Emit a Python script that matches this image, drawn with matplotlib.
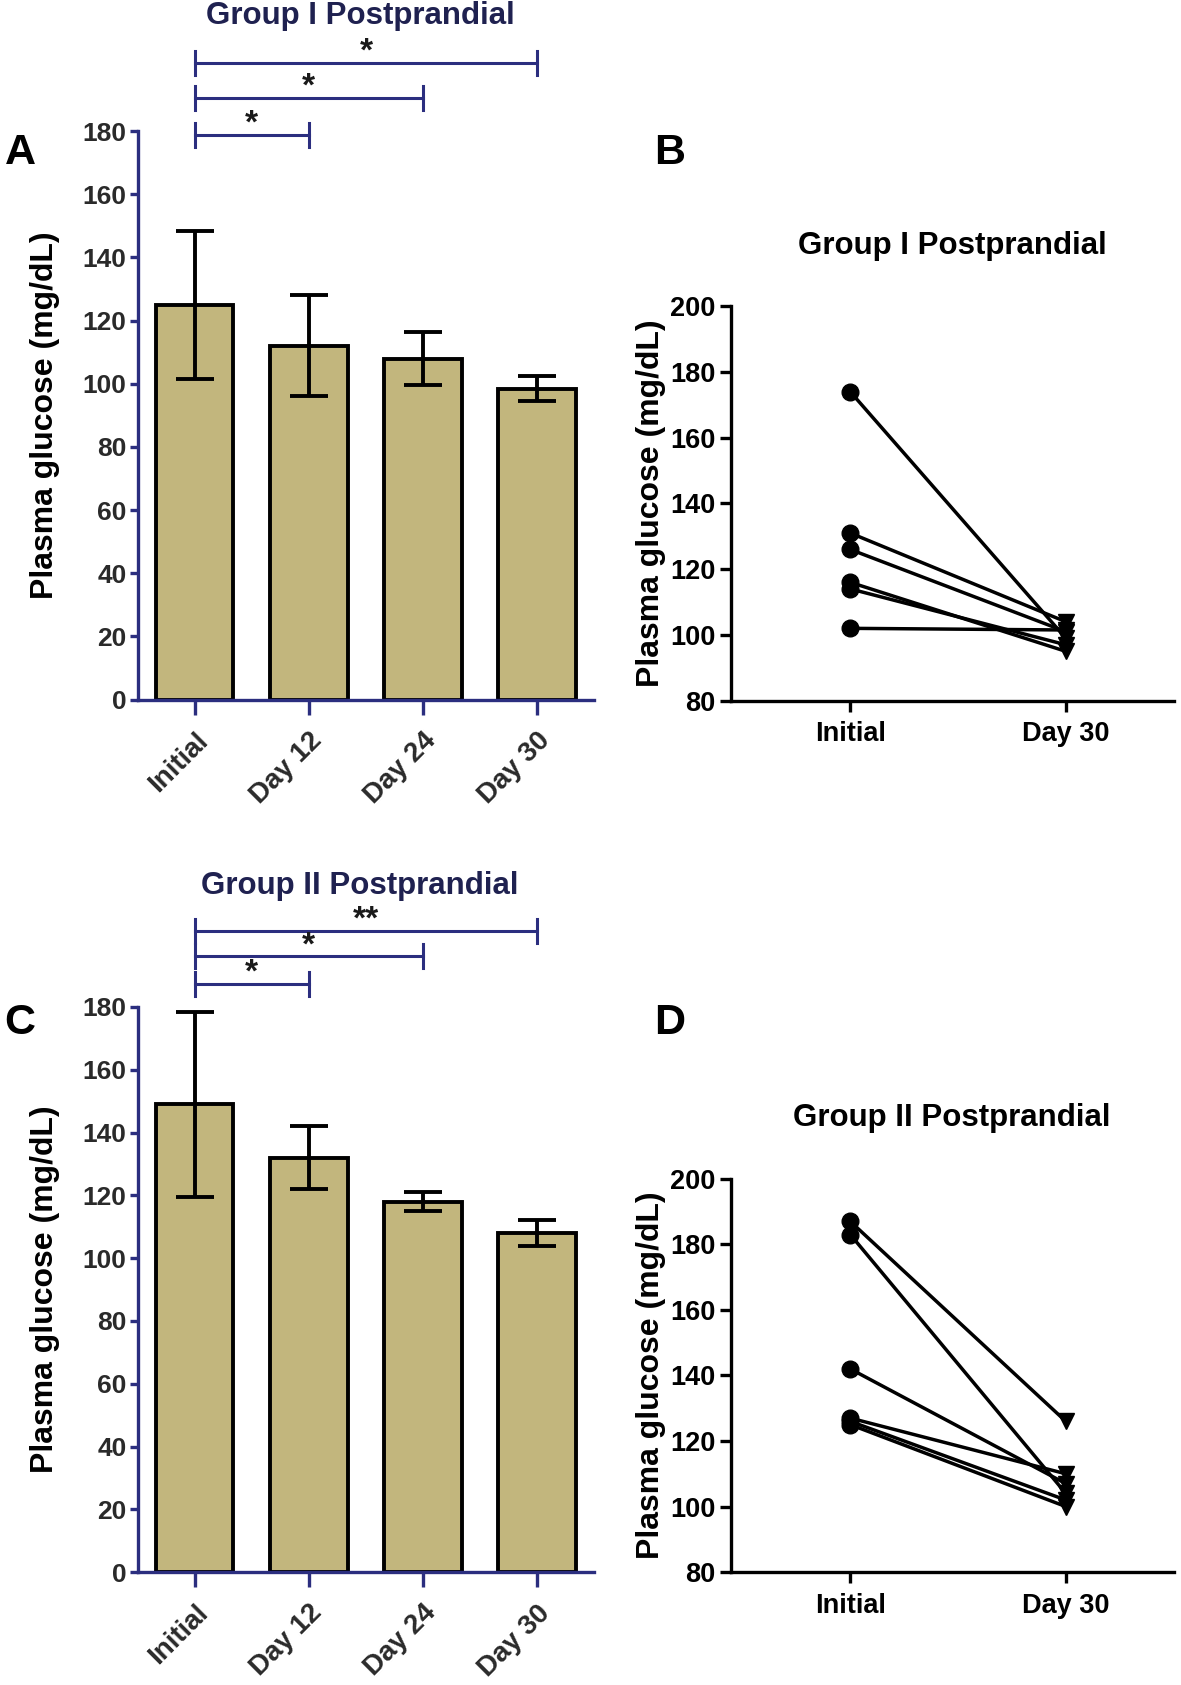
import matplotlib
matplotlib.use("Agg")
import matplotlib.pyplot as plt
import numpy as np

plt.rcParams['font.family'] = ['Liberation Sans', 'DejaVu Sans']
plt.rcParams['font.weight'] = 'bold'

# ---------------- data ----------------
days = ["Initial", "Day 12", "Day 24", "Day 30"]
g1_mean = [125, 112, 108, 98.5]
g1_sd = [23.5, 16, 8.5, 4]
g2_mean = [149, 132, 118, 108]
g2_sd = [29.5, 10, 3, 4]

pair_labels = ["Initial", "Day 30"]
g1_initial = [174, 131, 126, 116, 114, 102]
g1_day30 = [99, 104, 101, 95, 97, 101.5]
g2_initial = [187, 183, 142, 127, 126, 125]
g2_day30 = [126, 104, 107, 110, 102, 100]

g1_sig = [(0, 1, "*"), (0, 2, "*"), (0, 3, "*")]
g2_sig = [(0, 1, "*"), (0, 2, "*"), (0, 3, "**")]

NAVY = "#2b2e7f"
BAR = "#c2b67d"
TXT = "#2a2a2a"

fig = plt.figure(figsize=(11.81, 16.85), dpi=100)


def bar_panel(rect, means, sds, sig, sig_levels, title, title_y, letter, letter_xy):
    ax = fig.add_axes(rect)
    x = np.arange(len(days))
    ax.bar(x, means, width=0.68, color=BAR, edgecolor="black", linewidth=2.8, zorder=2)
    ax.errorbar(x, means, yerr=sds, fmt="none", ecolor="black", elinewidth=2.8,
                capsize=14, capthick=2.8, zorder=3)
    ax.set_xlim(-0.5, 3.5)
    ax.set_ylim(0, 180)
    ax.set_yticks(np.arange(0, 181, 20))
    ax.set_xticks(x)
    ax.set_xticklabels(days, rotation=45, ha="right", rotation_mode="anchor",
                       fontsize=20, fontweight="bold", color=TXT)
    for lab in ax.get_yticklabels():
        lab.set_fontsize(19)
        lab.set_fontweight("bold")
        lab.set_color(TXT)
    for s in ["top", "right"]:
        ax.spines[s].set_visible(False)
    for s in ["left", "bottom"]:
        ax.spines[s].set_color(NAVY)
        ax.spines[s].set_linewidth(2.4)
    ax.tick_params(axis="y", colors=NAVY, width=2.4, length=6, labelcolor=TXT, pad=2)
    ax.tick_params(axis="x", colors=NAVY, width=2.4, length=11, labelcolor=TXT, pad=9)
    ax.set_ylabel("Plasma glucose (mg/dL)", fontsize=23, fontweight="bold", color="black")
    ax.yaxis.set_label_coords(-0.17, 0.5)
    # significance brackets
    for (a, b, star), lvl in zip(sig, sig_levels):
        ax.plot([x[a], x[b]], [lvl, lvl], color=NAVY, lw=2.2, clip_on=False)
        for xe in (x[a], x[b]):
            ax.plot([xe, xe], [lvl - 3.8, lvl + 3.8], color=NAVY, lw=2.2, clip_on=False)
        ax.text((x[a] + x[b]) / 2, lvl - 1.5, star, ha="center", va="bottom",
                fontsize=24, fontweight="bold", color="#1a1a1a")
    ax.text(1.45, title_y, title, ha="center", va="center", fontsize=22.5,
            fontweight="bold", color="#1f2150")
    fig.text(letter_xy[0], letter_xy[1], letter, fontsize=31, fontweight="bold",
             ha="center", va="center")
    return ax


def pair_panel(rect, init, d30, title, letter, letter_xy):
    ax = fig.add_axes(rect)
    for a, b in zip(init, d30):
        ax.plot([0, 1], [a, b], color="black", lw=2.5, zorder=2)
    ax.plot(np.zeros(len(init)), init, "o", color="black", ms=12, zorder=3)
    ax.plot(np.ones(len(d30)), d30, "v", color="black", ms=12, zorder=3)
    ax.set_xlim(-0.555, 1.5)
    ax.set_ylim(80, 200)
    ax.set_yticks(np.arange(80, 201, 20))
    ax.set_xticks([0, 1])
    ax.set_xticklabels(pair_labels, fontsize=19.5, fontweight="bold")
    for lab in ax.get_yticklabels():
        lab.set_fontsize(19.5)
        lab.set_fontweight("bold")
    for s in ["top", "right"]:
        ax.spines[s].set_visible(False)
    for s in ["left", "bottom"]:
        ax.spines[s].set_linewidth(2.4)
    ax.tick_params(axis="both", width=2.4, length=8, pad=3)
    ax.tick_params(axis="x", pad=7)
    ax.set_ylabel("Plasma glucose (mg/dL)", fontsize=23, fontweight="bold")
    ax.yaxis.set_label_coords(-0.145, 0.5)
    ax.set_title(title, fontsize=22.5, fontweight="bold", pad=38)
    fig.text(letter_xy[0], letter_xy[1], letter, fontsize=31, fontweight="bold",
             ha="center", va="center")
    return ax


bar_panel([0.1165, 0.5848, 0.3867, 0.3374], g1_mean, g1_sd, g1_sig,
          [178.7, 190.5, 201.7], "Group I Postprandial", 216.5, "A", (0.017, 0.909))
pair_panel([0.6187, 0.5842, 0.375, 0.234], g1_initial, g1_day30,
           "Group I Postprandial", "B", (0.567, 0.909))
bar_panel([0.1165, 0.0670, 0.3867, 0.3354], g2_mean, g2_sd, g2_sig,
          [187.2, 196.1, 204.3], "Group II Postprandial", 218.5, "C", (0.017, 0.393))
pair_panel([0.6187, 0.0670, 0.375, 0.2334], g2_initial, g2_day30,
           "Group II Postprandial", "D", (0.567, 0.393))

fig.savefig("out.png", dpi=100, facecolor="white")
